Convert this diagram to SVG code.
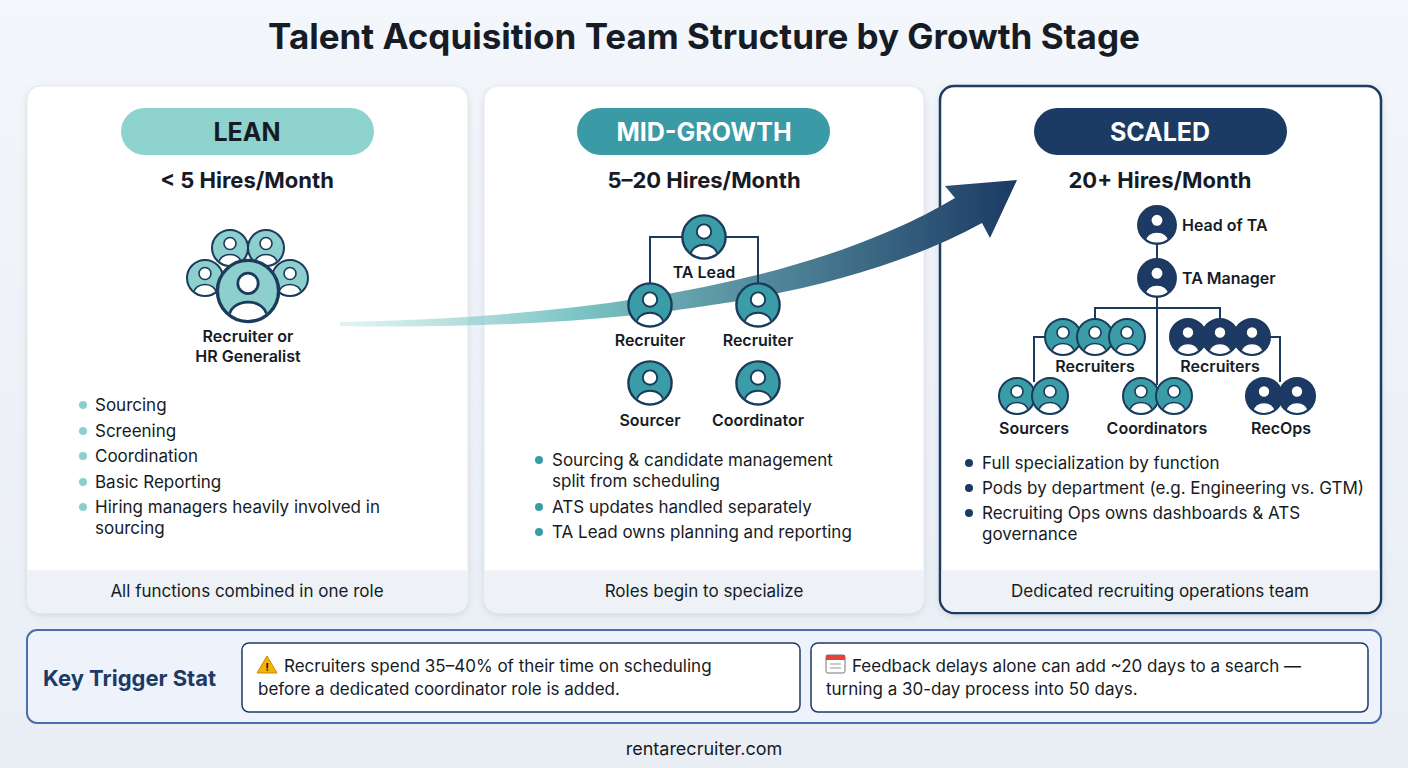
<svg xmlns="http://www.w3.org/2000/svg" width="1408" height="768" viewBox="0 0 1408 768">
<style>
text{font-family:Inter,"Liberation Sans",sans-serif;fill:#161b26}
.t{font-size:35px;font-weight:700;text-anchor:middle}
.pill{font-size:25px;font-weight:700;text-anchor:middle}
.sub{font-size:22px;font-weight:700;text-anchor:middle}
.lb{font-size:16px;font-weight:600}
.c{text-anchor:middle}
.b{font-size:17px}
.f{font-size:17px;text-anchor:middle}
.ln{stroke:#1b3a5c;stroke-width:2;fill:none}
.card{fill:#fff;stroke:#e3e7ee;stroke-width:1}
.band{fill:#eef1f5}
</style>
<defs>
<linearGradient id="bg" x1="0" y1="0" x2="0" y2="1"><stop offset="0" stop-color="#f3f6fa"/><stop offset="1" stop-color="#e9eef5"/></linearGradient>
<linearGradient id="ag" x1="340" y1="0" x2="1017" y2="0" gradientUnits="userSpaceOnUse"><stop offset="0" stop-color="#9ed8d4" stop-opacity="0.3"/><stop offset="0.35" stop-color="#7cc4c4"/><stop offset="1" stop-color="#1b3a64"/></linearGradient>
<clipPath id="cp"><circle r="17"/></clipPath>
<filter id="sh" x="-5%" y="-5%" width="110%" height="110%"><feDropShadow dx="0" dy="2" stdDeviation="3" flood-color="#5a6a80" flood-opacity="0.18"/></filter>
<g id="pL"><circle r="18" fill="#8ccfcc"/><g clip-path="url(#cp)"><ellipse cx="0" cy="15" rx="11" ry="8.5" fill="#fff" stroke="#1b3a5c" stroke-width="1.6"/></g><circle cy="-4.5" r="6" fill="#fff" stroke="#1b3a5c" stroke-width="1.6"/><circle r="18" fill="none" stroke="#1b3a5c" stroke-width="2"/></g>
<g id="pT"><circle r="18" fill="#3a9ca6"/><g clip-path="url(#cp)"><ellipse cx="0" cy="15" rx="11" ry="8.5" fill="#fff" stroke="#1b3a5c" stroke-width="1.6"/></g><circle cy="-4.5" r="6" fill="#fff" stroke="#1b3a5c" stroke-width="1.6"/><circle r="18" fill="none" stroke="#1b3a5c" stroke-width="2"/></g>
<g id="pN"><circle r="18" fill="#1d3a66"/><g clip-path="url(#cp)"><ellipse cx="0" cy="15" rx="11" ry="8.5" fill="#fff" stroke="#1b3a5c" stroke-width="1.6"/></g><circle cy="-4.5" r="6" fill="#fff" stroke="#1b3a5c" stroke-width="1.6"/><circle r="18" fill="none" stroke="#1b3a5c" stroke-width="2"/></g>
</defs>
<rect width="1408" height="768" fill="url(#bg)"/>
<text class="t" x="704" y="49">Talent Acquisition Team Structure by Growth Stage</text>

<g id="cards">
<rect class="card" x="27" y="86" width="441" height="527" rx="14" filter="url(#sh)"/>
<path class="band" d="M27,570H468V599a14,14 0 0 1 -14,14H41a14,14 0 0 1 -14,-14Z"/>
<rect class="card" x="484" y="86" width="440" height="527" rx="14" filter="url(#sh)"/>
<path class="band" d="M484,570H924V599a14,14 0 0 1 -14,14H498a14,14 0 0 1 -14,-14Z"/>
<rect x="940" y="86" width="441" height="527" rx="14" fill="#fff" stroke="#1d3a66" stroke-width="2.5" filter="url(#sh)"/>
<path class="band" d="M941.5,570H1379.5V599a13,13 0 0 1 -13,13H954.5a13,13 0 0 1 -13,-13Z"/>
</g>

<g id="connectors">
<path d="M340,322 C560,318 800,290 955,198 L945,186 L1017,180 L990,238 L982,223 C820,312 560,330 340,326 Z" fill="url(#ag)"/>
</g>

<g id="lean">
<rect x="121" y="108" width="253" height="47" rx="23.5" fill="#8fd3cf"/>
<text class="pill" x="247" y="141">LEAN</text>
<text class="sub" x="247" y="188">&lt; 5 Hires/Month</text>
<use href="#pL" transform="translate(230,248)"/><use href="#pL" transform="translate(266,248)"/>
<use href="#pL" transform="translate(205,278)"/><use href="#pL" transform="translate(290,278)"/>
<use href="#pL" transform="translate(248,291) scale(1.7)"/>
<text class="lb c" x="248" y="342">Recruiter or</text>
<text class="lb c" x="248" y="362">HR Generalist</text>
<g fill="#8ccfcc"><circle cx="83" cy="405" r="4"/><circle cx="83" cy="431" r="4"/><circle cx="83" cy="456" r="4"/><circle cx="83" cy="482" r="4"/><circle cx="83" cy="507" r="4"/></g>
<text class="b" x="95" y="411">Sourcing</text>
<text class="b" x="95" y="437">Screening</text>
<text class="b" x="95" y="462">Coordination</text>
<text class="b" x="95" y="488">Basic Reporting</text>
<text class="b" x="95" y="513">Hiring managers heavily involved in</text>
<text class="b" x="95" y="534">sourcing</text>
<text class="f" x="247" y="597">All functions combined in one role</text>
</g>

<g id="mid">
<rect x="577" y="108" width="253" height="47" rx="23.5" fill="#3a9ba6"/>
<text class="pill" x="704" y="141" style="fill:#fff">MID-GROWTH</text>
<text class="sub" x="704" y="188">5–20 Hires/Month</text>
<path class="ln" d="M682,237H650V285M726,237H758V285"/>
<use href="#pT" transform="translate(704,237) scale(1.2)"/>
<text class="lb c" x="704" y="278">TA Lead</text>
<use href="#pT" transform="translate(650,305) scale(1.2)"/>
<use href="#pT" transform="translate(758,305) scale(1.2)"/>
<text class="lb c" x="650" y="346">Recruiter</text>
<text class="lb c" x="758" y="346">Recruiter</text>
<use href="#pT" transform="translate(650,383) scale(1.2)"/>
<use href="#pT" transform="translate(758,383) scale(1.2)"/>
<text class="lb c" x="650" y="426">Sourcer</text>
<text class="lb c" x="758" y="426">Coordinator</text>
<g fill="#3a9ca6"><circle cx="539" cy="460" r="4"/><circle cx="539" cy="507" r="4"/><circle cx="539" cy="532" r="4"/></g>
<text class="b" x="552" y="466">Sourcing &amp; candidate management</text>
<text class="b" x="552" y="487">split from scheduling</text>
<text class="b" x="552" y="513">ATS updates handled separately</text>
<text class="b" x="552" y="538">TA Lead owns planning and reporting</text>
<text class="f" x="704" y="597">Roles begin to specialize</text>
</g>

<g id="scaled">
<rect x="1034" y="108" width="253" height="47" rx="23.5" fill="#1b3a64"/>
<text class="pill" x="1160" y="141" style="fill:#fff">SCALED</text>
<text class="sub" x="1160" y="188">20+ Hires/Month</text>
<path class="ln" d="M1157,240V385M1095,320V308H1220V320M1047,337H1034V382M1268,337H1280V382"/>
<use href="#pN" transform="translate(1157,225) scale(1.05)"/>
<text class="lb" x="1182" y="231">Head of TA</text>
<use href="#pN" transform="translate(1157,278) scale(1.05)"/>
<text class="lb" x="1182" y="284">TA Manager</text>
<use href="#pT" transform="translate(1063,337)"/><use href="#pT" transform="translate(1095,337)"/><use href="#pT" transform="translate(1127,337)"/>
<use href="#pN" transform="translate(1188,337)"/><use href="#pN" transform="translate(1220,337)"/><use href="#pN" transform="translate(1252,337)"/>
<text class="lb c" x="1095" y="372">Recruiters</text>
<text class="lb c" x="1220" y="372">Recruiters</text>
<use href="#pT" transform="translate(1017,396)"/><use href="#pT" transform="translate(1050,396)"/>
<use href="#pT" transform="translate(1141,396)"/><use href="#pT" transform="translate(1174,396)"/>
<use href="#pN" transform="translate(1264,396)"/><use href="#pN" transform="translate(1297,396)"/>
<text class="lb c" x="1034" y="434">Sourcers</text>
<text class="lb c" x="1157" y="434">Coordinators</text>
<text class="lb c" x="1281" y="434">RecOps</text>
<g fill="#1d3a66"><circle cx="969" cy="463" r="4"/><circle cx="969" cy="488" r="4"/><circle cx="969" cy="513" r="4"/></g>
<text class="b" x="982" y="469">Full specialization by function</text>
<text class="b" x="982" y="494">Pods by department (e.g. Engineering vs. GTM)</text>
<text class="b" x="982" y="519">Recruiting Ops owns dashboards &amp; ATS</text>
<text class="b" x="982" y="540">governance</text>
<text class="f" x="1160" y="597">Dedicated recruiting operations team</text>
</g>

<g id="trigger">
<rect x="27" y="630" width="1354" height="93" rx="10" fill="#eef3fb" stroke="#4a6ea8" stroke-width="2"/>
<text x="43" y="686" style="font-size:22px;font-weight:700;fill:#1d3a66">Key Trigger Stat</text>
<rect x="242" y="643" width="558" height="69" rx="7" fill="#fff" stroke="#1d3a66" stroke-width="1.5"/>
<path d="M267,656 L277,673 L257,673 Z" fill="#f5b400" stroke="#c98a00" stroke-width="1"/>
<text x="267" y="671" style="font-size:11px;font-weight:700;text-anchor:middle">!</text>
<text class="b" x="284" y="672">Recruiters spend 35–40% of their time on scheduling</text>
<text class="b" x="258" y="695">before a dedicated coordinator role is added.</text>
<rect x="811" y="643" width="557" height="69" rx="7" fill="#fff" stroke="#1d3a66" stroke-width="1.5"/>
<rect x="826" y="655" width="19" height="18" rx="2" fill="#fff" stroke="#777" stroke-width="1"/>
<rect x="826" y="655" width="19" height="5" fill="#e0453a"/>
<path d="M830,664h11M830,668h11" stroke="#999" stroke-width="1"/>
<text class="b" x="852" y="672">Feedback delays alone can add ~20 days to a search —</text>
<text class="b" x="826" y="695">turning a 30-day process into 50 days.</text>
</g>
<text x="704" y="755" style="font-size:18px;text-anchor:middle">rentarecruiter.com</text>
</svg>
